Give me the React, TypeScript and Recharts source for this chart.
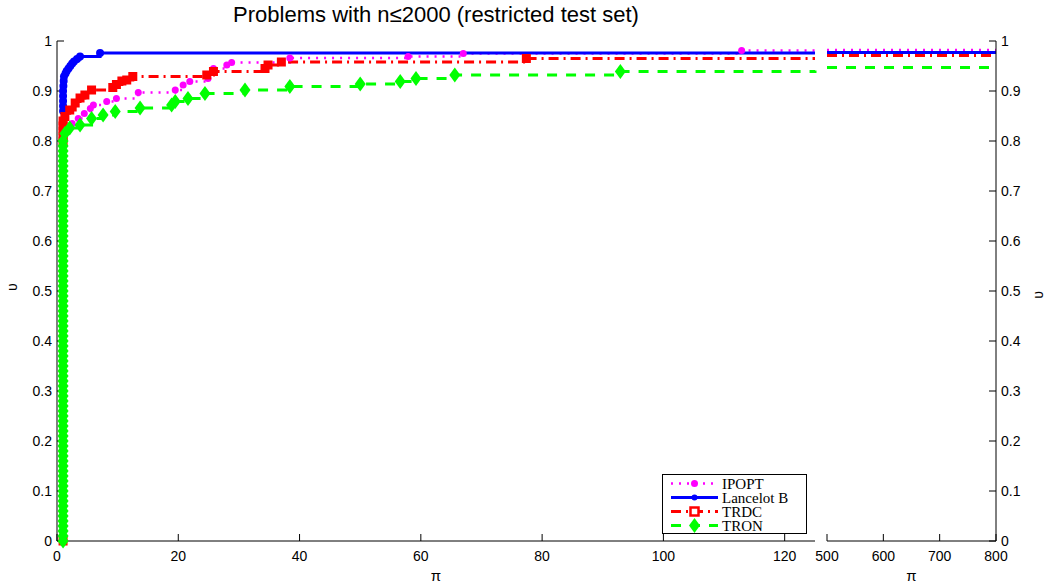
import { LineChart, Line, XAxis, YAxis, Legend } from 'recharts';

const MAIN_X_TICKS = [0, 20, 40, 60, 80, 100, 120];
const TAIL_X_TICKS = [500, 600, 700, 800];
const Y_TICKS = [0, 0.1, 0.2, 0.3, 0.4, 0.5, 0.6, 0.7, 0.8, 0.9, 1];

// [tau, rho] pairs
const IPOPT: [number, number][] = [
  [1, 0], [1, 0.8], [1.5, 0.82], [2.5, 0.835], [3.5, 0.845], [4.5, 0.855], [5.5, 0.865],
  [6, 0.872], [8.2, 0.879], [9.8, 0.885], [13.4, 0.897], [19.5, 0.902], [20.8, 0.912],
  [21.9, 0.919], [24.9, 0.925], [25.8, 0.945], [28, 0.952], [28.8, 0.957], [38.4, 0.966],
  [57.9, 0.969], [67, 0.975], [112.9, 0.981], [125, 0.981],
];
const LANCELOT: [number, number][] = [
  [1, 0], [1, 0.86], [1, 0.87], [1, 0.88], [1, 0.89], [1, 0.9], [1.05, 0.91], [1.1, 0.92],
  [1.15, 0.929], [1.4, 0.935], [1.6, 0.94], [1.9, 0.945], [2.2, 0.95], [2.5, 0.955],
  [2.8, 0.959], [3.3, 0.964], [3.8, 0.969], [7.1, 0.976], [125, 0.976],
];
const TRDC: [number, number][] = [
  [1, 0], [1, 0.8], [1, 0.81], [1, 0.82], [1, 0.83], [1, 0.84], [1.3, 0.849], [2.1, 0.862],
  [3, 0.876], [3.8, 0.886], [4.6, 0.892], [5.7, 0.902], [9.2, 0.907], [9.8, 0.913],
  [10.7, 0.92], [11.5, 0.922], [12.5, 0.929], [24.7, 0.932], [25.8, 0.939], [34.3, 0.945],
  [34.8, 0.952], [37, 0.958], [77.4, 0.965], [125, 0.965],
];
const TRON: [number, number][] = [
  [1, 0], [1, 0.01], [1, 0.02], [1, 0.03], [1, 0.04], [1, 0.05], [1, 0.06], [1, 0.07],
  [1, 0.08], [1, 0.09], [1, 0.1], [1, 0.11], [1, 0.12], [1, 0.13], [1, 0.14], [1, 0.15],
  [1, 0.16], [1, 0.17], [1, 0.18], [1, 0.19], [1, 0.2], [1, 0.21], [1, 0.22], [1, 0.23],
  [1, 0.24], [1, 0.25], [1, 0.26], [1, 0.27], [1, 0.28], [1, 0.29], [1, 0.3], [1, 0.31],
  [1, 0.32], [1, 0.33], [1, 0.34], [1, 0.35], [1, 0.36], [1, 0.37], [1, 0.38], [1, 0.39],
  [1, 0.4], [1, 0.41], [1, 0.42], [1, 0.43], [1, 0.44], [1, 0.45], [1, 0.46], [1, 0.47],
  [1, 0.48], [1, 0.49], [1, 0.5], [1, 0.51], [1, 0.52], [1, 0.53], [1, 0.54], [1, 0.55],
  [1, 0.56], [1, 0.57], [1, 0.58], [1, 0.59], [1, 0.6], [1, 0.61], [1, 0.62], [1, 0.63],
  [1, 0.64], [1, 0.65], [1, 0.66], [1, 0.67], [1, 0.68], [1, 0.69], [1, 0.7], [1, 0.71],
  [1, 0.72], [1, 0.73], [1, 0.74], [1, 0.75], [1, 0.76], [1, 0.77], [1, 0.78], [1, 0.79],
  [1, 0.8], [1.3, 0.815], [2.1, 0.826], [3.8, 0.832], [5.7, 0.845], [7.6, 0.852], [9.6, 0.859],
  [13.7, 0.866], [18.9, 0.872], [19.5, 0.879], [21.6, 0.885], [24.4, 0.895], [31, 0.902],
  [38.4, 0.909], [50, 0.914], [56.6, 0.919], [59.2, 0.925], [65.6, 0.932], [92.9, 0.939],
  [125, 0.941],
];

// right-hand panel, large ratios
const IPOPT_TAIL: [number, number][] = [[500, 0.982], [800, 0.982]];
const LANCELOT_TAIL: [number, number][] = [[500, 0.977], [800, 0.977]];
const TRDC_TAIL: [number, number][] = [[500, 0.971], [800, 0.971]];
const TRON_TAIL: [number, number][] = [[500, 0.947], [800, 0.947]];

const toRows = (pts: [number, number][]) => pts.map(([x, y]) => ({ x, y }));

type MarkerKind = 'circle' | 'dot' | 'square' | 'diamond';

const SERIES = [
  { name: 'IPOPT', main: IPOPT, tail: IPOPT_TAIL, color: '#ff00ff', dash: '2 6', width: 2.5, marker: 'circle' as MarkerKind },
  { name: 'Lancelot B', main: LANCELOT, tail: LANCELOT_TAIL, color: '#0000ff', dash: undefined, width: 3, marker: 'dot' as MarkerKind },
  { name: 'TRDC', main: TRDC, tail: TRDC_TAIL, color: '#ff0000', dash: '10 5 2 5', width: 3, marker: 'square' as MarkerKind },
  { name: 'TRON', main: TRON, tail: TRON_TAIL, color: '#00ff00', dash: '10 9', width: 3, marker: 'diamond' as MarkerKind },
];

const FONT = '"Liberation Sans", Arial, sans-serif';
const tickStyle = { fontSize: 14, fill: '#000', fontFamily: FONT };
const axisStroke = { stroke: '#000', strokeWidth: 1 };

function Marker({ kind, x, y, color, legend }: { kind: MarkerKind; x: number; y: number; color: string; legend?: boolean }) {
  if (kind === 'circle') return <circle cx={x} cy={y} r={3.5} fill={color} />;
  if (kind === 'dot') return <circle cx={x} cy={y} r={legend ? 3 : 4} fill={color} />;
  if (kind === 'square') {
    return legend
      ? <rect x={x - 4} y={y - 4} width={8} height={8} fill="#fff" stroke={color} strokeWidth={2.5} />
      : <rect x={x - 4.5} y={y - 4.5} width={9} height={9} fill={color} />;
  }
  return <polygon points={`${x},${y - 7.5} ${x + 5.5},${y} ${x},${y + 7.5} ${x - 5.5},${y}`} fill={color} />;
}

function dotFor(kind: MarkerKind, color: string, count: number) {
  return (p: any) => {
    if (p.index === count - 1 || p.cx == null) return <g key={`d${p.index}`} />;
    return (
      <g key={`d${p.index}`}>
        <Marker kind={kind} x={p.cx} y={p.cy} color={color} />
      </g>
    );
  };
}

function LegendBox() {
  return (
    <svg width={145} height={60} style={{ display: 'block' }}>
      <rect x={0.5} y={0.5} width={144} height={59} fill="#fff" stroke="#000" strokeWidth={1} />
      {SERIES.map((s, i) => {
        const cy = 9.5 + i * 14;
        return (
          <g key={s.name}>
            <line x1={9} x2={56} y1={cy} y2={cy} stroke={s.color} strokeWidth={s.width} strokeDasharray={s.dash} />
            <Marker kind={s.marker} x={32.5} y={cy} color={s.color} legend />
            <text x={60} y={cy + 5} fontSize={15} fontFamily='"Liberation Serif", "Times New Roman", serif' fill="#000">
              {s.name}
            </text>
          </g>
        );
      })}
    </svg>
  );
}

export default function App() {
  return (
    <div style={{ position: 'fixed', left: 0, top: 0, width: 1047, height: 588, background: '#fff' }}>
      <div
        style={{
          position: 'absolute', left: 57, top: 2, width: 758, textAlign: 'center',
          fontFamily: FONT, fontSize: 22, color: '#000', whiteSpace: 'nowrap',
        }}
      >
        Problems with n≤2000 (restricted test set)
      </div>

      <div style={{ position: 'absolute', left: 0, top: 0 }}>
        <LineChart width={820} height={588} margin={{ top: 41, right: 5, bottom: 0, left: 0 }}>
          <XAxis
            dataKey="x" type="number" domain={[0, 125]} ticks={MAIN_X_TICKS} height={47}
            tickSize={-7} tickMargin={17} tick={tickStyle} axisLine={axisStroke} tickLine={axisStroke}
            label={{ value: 'π', position: 'insideBottom', offset: 7, style: { fontSize: 15, fill: '#000', fontFamily: FONT } }}
          />
          <XAxis
            xAxisId="top" orientation="top" type="number" domain={[0, 125]} ticks={MAIN_X_TICKS} height={0}
            tickSize={-7} tick={false} axisLine={axisStroke} tickLine={axisStroke}
          />
          <YAxis
            type="number" domain={[0, 1]} ticks={Y_TICKS} width={57}
            tickSize={-7} tickMargin={12} tick={tickStyle} axisLine={axisStroke} tickLine={axisStroke}
            label={{ value: 'υ', angle: -90, position: 'insideLeft', offset: 12, style: { fontSize: 14, fill: '#000', fontFamily: FONT } }}
          />
          <YAxis
            yAxisId="r" orientation="right" type="number" domain={[0, 1]} ticks={Y_TICKS} width={0}
            tickSize={-7} tick={false} axisLine={axisStroke} tickLine={axisStroke}
          />
          {SERIES.map((s) => (
            <Line
              key={s.name}
              name={s.name}
              data={toRows(s.main)}
              dataKey="y"
              type="stepAfter"
              stroke={s.color}
              strokeWidth={s.width}
              strokeDasharray={s.dash}
              dot={dotFor(s.marker, s.color, s.main.length)}
              activeDot={false}
              isAnimationActive={false}
            />
          ))}
          <Legend
            layout="vertical" align="center" verticalAlign="middle"
            wrapperStyle={{ left: 662, top: 474, width: 145, height: 60 }}
            content={() => <LegendBox />}
          />
        </LineChart>
      </div>

      <div style={{ position: 'absolute', left: 810, top: 0 }}>
        <LineChart width={237} height={588} margin={{ top: 41, right: 0, bottom: 0, left: 17 }}>
          <XAxis
            dataKey="x" type="number" domain={[500, 800]} ticks={TAIL_X_TICKS} height={47}
            tickSize={-7} tickMargin={17} tick={tickStyle} axisLine={axisStroke} tickLine={axisStroke}
            label={{ value: 'π', position: 'insideBottom', offset: 7, style: { fontSize: 15, fill: '#000', fontFamily: FONT } }}
          />
          <XAxis
            xAxisId="top" orientation="top" type="number" domain={[500, 800]} ticks={TAIL_X_TICKS} height={0}
            tickSize={-7} tick={false} axisLine={axisStroke} tickLine={axisStroke}
          />
          <YAxis
            yAxisId="l" type="number" domain={[0, 1]} ticks={Y_TICKS} width={0}
            tickSize={-7} tick={false} axisLine={axisStroke} tickLine={axisStroke}
          />
          <YAxis
            orientation="right" type="number" domain={[0, 1]} ticks={Y_TICKS} width={51}
            tickSize={-7} tickMargin={12} tick={tickStyle} axisLine={axisStroke} tickLine={axisStroke}
            label={{ value: 'υ', angle: -90, position: 'insideRight', offset: 9, style: { fontSize: 14, fill: '#000', fontFamily: FONT } }}
          />
          {SERIES.map((s) => (
            <Line
              key={s.name}
              name={s.name}
              data={toRows(s.tail)}
              dataKey="y"
              type="linear"
              stroke={s.color}
              strokeWidth={s.width}
              strokeDasharray={s.dash}
              dot={false}
              activeDot={false}
              isAnimationActive={false}
            />
          ))}
        </LineChart>
      </div>
    </div>
  );
}
